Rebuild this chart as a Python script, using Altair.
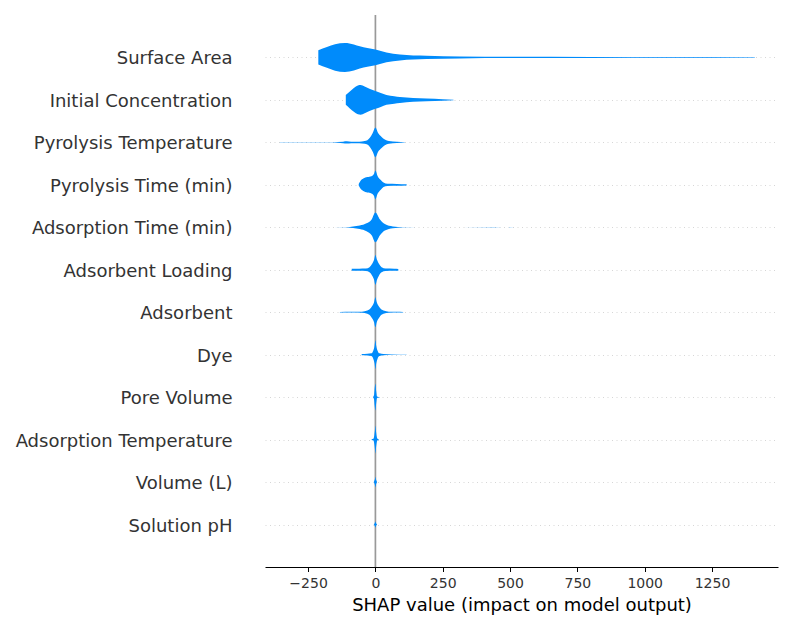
import altair as alt
import pandas as pd

# Features, top to bottom
features = [
    "Surface Area",
    "Initial Concentration",
    "Pyrolysis Temperature",
    "Pyrolysis Time (min)",
    "Adsorption Time (min)",
    "Adsorbent Loading",
    "Adsorbent",
    "Dye",
    "Pore Volume",
    "Adsorption Temperature",
    "Volume (L)",
    "Solution pH",
]

# Violin profiles: SHAP value grid and normalised density for each feature
surface_area_x = [-212, -180, -150, -113, -80, -58, -30, 0, 41, 91, 190, 314, 500, 800, 1100, 1409]
surface_area_d = [0.48, 0.70, 0.89, 0.98, 0.88, 0.75, 0.63, 0.53, 0.33, 0.20, 0.11, 0.065, 0.04, 0.03, 0.025, 0.012]

initial_conc_x = [-110, -95, -80, -65, -55, -40, -20, 0, 20, 41, 70, 91, 140, 190, 250, 290]
initial_conc_d = [0.33, 0.57, 0.80, 0.97, 1.00, 0.90, 0.73, 0.60, 0.47, 0.33, 0.25, 0.20, 0.13, 0.09, 0.05, 0.015]

pyro_temp_x = [-355, -250, -160, -120, -106, -90, -60, -40, -30, -20, -10, 0, 10, 23, 35, 50, 80, 110]
pyro_temp_d = [0.004, 0.006, 0.015, 0.05, 0.07, 0.05, 0.05, 0.09, 0.15, 0.33, 0.63, 1.00, 0.63, 0.37, 0.20, 0.10, 0.04, 0.01]

pyro_time_x = [-62, -55, -45, -30, -15, -5, 0, 8, 20, 30, 45, 80, 116]
pyro_time_d = [0.05, 0.27, 0.42, 0.52, 0.58, 0.75, 0.97, 0.60, 0.33, 0.15, 0.07, 0.06, 0.04]

ads_time_x = [-320, -200, -107, -83, -58, -33, -14, 0, 17, 35, 65, 102, 200, 440, 540]
ads_time_d = [0.003, 0.004, 0.01, 0.05, 0.12, 0.27, 0.53, 1.00, 0.53, 0.22, 0.06, 0.01, 0.003, 0.006, 0.002]

ads_loading_x = [-88, -60, -35, -22, -12, -5, 0, 6, 13, 23, 38, 70, 85]
ads_loading_d = [0.07, 0.07, 0.08, 0.17, 0.40, 0.67, 1.00, 0.67, 0.40, 0.17, 0.08, 0.07, 0.06]

adsorbent_x = [-132, -90, -50, -30, -15, -5, 0, 5, 15, 30, 50, 80, 103]
adsorbent_d = [0.015, 0.025, 0.04, 0.11, 0.33, 0.67, 1.00, 0.67, 0.33, 0.11, 0.04, 0.025, 0.015]

dye_x = [-51, -30, -15, -8, -3, 0, 3, 8, 15, 30, 60, 116]
dye_d = [0.04, 0.06, 0.09, 0.27, 0.60, 0.97, 0.60, 0.27, 0.09, 0.04, 0.02, 0.01]

pore_volume_x = [-9, -5, -3, 0, 3, 6, 17]
pore_volume_d = [0.01, 0.15, 0.55, 0.90, 0.40, 0.05, 0.01]

ads_temp_x = [-14, -8, -4, -2, 0, 2, 4, 8, 12]
ads_temp_d = [0.02, 0.05, 0.30, 0.60, 0.93, 0.60, 0.30, 0.05, 0.02]

volume_x = [-6, -2.5, 0, 2.5, 6]
volume_d = [0.01, 0.15, 0.35, 0.15, 0.01]

ph_x = [-6, -2.5, 0, 2.5, 6]
ph_d = [0.01, 0.08, 0.20, 0.08, 0.01]

profiles = [
    (surface_area_x, surface_area_d),
    (initial_conc_x, initial_conc_d),
    (pyro_temp_x, pyro_temp_d),
    (pyro_time_x, pyro_time_d),
    (ads_time_x, ads_time_d),
    (ads_loading_x, ads_loading_d),
    (adsorbent_x, adsorbent_d),
    (dye_x, dye_d),
    (pore_volume_x, pore_volume_d),
    (ads_temp_x, ads_temp_d),
    (volume_x, volume_d),
    (ph_x, ph_d),
]

x_ticks = [-250, 0, 250, 500, 750, 1000, 1250]

HALF_WIDTH = 0.35  # violin half-height in row units at density 1
n = len(features)

rows = []
for i, (name, (xs, ds)) in enumerate(zip(features, profiles)):
    pos = n - 1 - i
    for x, d in zip(xs, ds):
        rows.append({"feature": name, "shap": x, "lo": pos - d * HALF_WIDTH, "hi": pos + d * HALF_WIDTH})
violins = pd.DataFrame(rows)

label_expr = "[" + ",".join(f"'{f}'" for f in reversed(features)) + "][datum.value]"

x_scale = alt.Scale(domain=[-410, 1495], nice=False, zero=False)
y_scale = alt.Scale(domain=[-1, n], nice=False, zero=False)

zero_line = alt.Chart(pd.DataFrame({"shap": [0]})).mark_rule(
    color="#999999", strokeWidth=1.7
).encode(x=alt.X("shap:Q", scale=x_scale))

areas = alt.Chart(violins).mark_area(
    color="#008bfb", interpolate="monotone"
).encode(
    x=alt.X(
        "shap:Q",
        scale=x_scale,
        axis=alt.Axis(
            title="SHAP value (impact on model output)",
            values=x_ticks,
            format="d",
            grid=False,
            domainColor="#000000",
            domainWidth=1,
            tickColor="#000000",
            tickSize=4.5,
            labelFontSize=14,
            labelColor="#333333",
            labelPadding=5,
            titleFontSize=18,
            titleFontWeight="normal",
            titleColor="#000000",
            titlePadding=6,
        ),
    ),
    y=alt.Y(
        "hi:Q",
        scale=y_scale,
        axis=alt.Axis(
            title=None,
            values=list(range(n)),
            labelExpr=label_expr,
            labelLimit=400,
            labelOffset=1.5,
            domain=False,
            ticks=False,
            labelFontSize=18,
            labelColor="#333333",
            labelPadding=33,
            grid=True,
            gridColor="#cccccc",
            gridWidth=0.8,
            gridDash=[1, 3.5],
        ),
    ),
    y2="lo:Q",
    detail="feature:N",
)

chart = alt.layer(zero_line, areas).properties(
    width=513,
    height=552,
    autosize=alt.AutoSizeParams(type="none"),
    padding={"left": 265, "top": 15, "right": 22, "bottom": 63},
    background="white",
).configure_view(stroke=None).configure_axis(
    labelFont="DejaVu Sans", titleFont="DejaVu Sans"
)

chart.save("out.html", embed_options={"renderer": "svg", "actions": False})
